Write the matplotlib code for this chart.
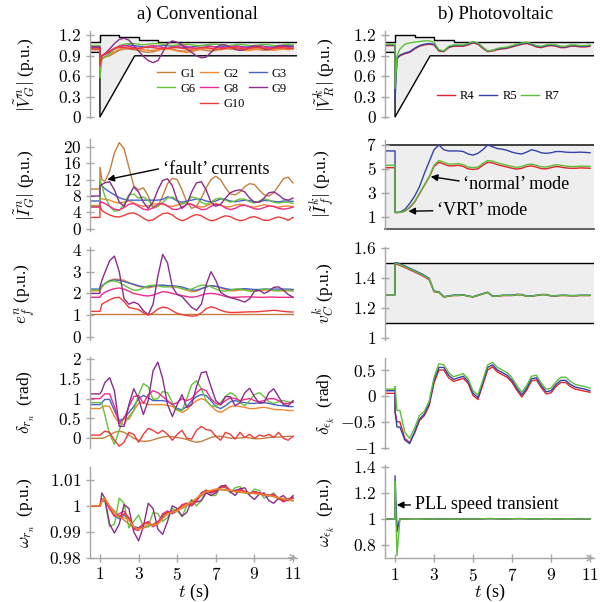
import matplotlib
matplotlib.use("Agg")
import matplotlib.pyplot as plt
from matplotlib.lines import Line2D
from matplotlib.ticker import FuncFormatter

plt.rcParams['font.family'] = ['Liberation Serif', 'DejaVu Serif']
plt.rcParams['mathtext.fontset'] = 'cm'

# time grid (s); 1.0 twice so the fault shows as a step
t = [0.5, 1.0, 1.0, 1.1,
     1.25, 1.5, 1.75, 2.0, 2.25, 2.5, 2.75, 3.0,
     3.25, 3.5, 3.75, 4.0, 4.25, 4.5, 4.75, 5.0,
     5.25, 5.5, 5.75, 6.0, 6.25, 6.5, 6.75, 7.0,
     7.25, 7.5, 7.75, 8.0, 8.25, 8.5, 8.75, 9.0,
     9.25, 9.5, 9.75, 10.0, 10.25, 10.5, 10.75, 11.0]

gen_names = ['G1', 'G2', 'G3', 'G6', 'G8', 'G9', 'G10']
pv_names = ['R4', 'R5', 'R7']

# ---- a) conventional: terminal voltage |V_G| ----
vg_g1 = [1.0, 1.0, 0.72, 0.86,
         0.88, 0.9, 0.94, 0.98, 1.0, 1.0, 0.99, 0.98,
         0.96, 0.95, 0.96, 0.98, 1.0, 1.01, 1.0, 0.98,
         0.97, 0.97, 0.98, 0.99, 0.99, 0.98, 0.97, 0.98,
         1.0, 1.01, 1.0, 0.99, 0.98, 0.99, 1.0, 1.0,
         0.99, 0.98, 0.99, 1.0, 1.01, 1.0, 0.99, 1.0]
vg_g2 = [0.99, 0.99, 0.7, 0.86,
         0.89, 0.92, 0.96, 1.0, 1.02, 1.03, 1.02, 1.0,
         0.99, 0.98, 0.98, 0.99, 1.0, 1.0, 0.99, 0.97,
         0.96, 0.95, 0.96, 0.98, 1.0, 1.01, 1.0, 0.99,
         0.99, 1.0, 1.01, 1.0, 0.99, 0.98, 0.98, 0.99,
         1.0, 1.0, 0.99, 0.98, 0.99, 1.0, 1.0, 1.0]
vg_g3 = [1.04, 1.04, 0.8, 0.9,
         0.92, 0.95, 1.0, 1.03, 1.05, 1.06, 1.05, 1.04,
         1.03, 1.02, 1.03, 1.04, 1.05, 1.05, 1.04, 1.03,
         1.02, 1.02, 1.03, 1.04, 1.05, 1.05, 1.04, 1.03,
         1.03, 1.04, 1.05, 1.05, 1.04, 1.03, 1.03, 1.04,
         1.05, 1.04, 1.03, 1.03, 1.04, 1.05, 1.05, 1.04]
vg_g6 = [1.05, 1.05, 0.57, 0.85,
         0.88, 0.93, 1.0, 1.05, 1.07, 1.08, 1.08, 1.07,
         1.06, 1.07, 1.08, 1.08, 1.07, 1.06, 1.05, 1.06,
         1.07, 1.07, 1.06, 1.05, 1.05, 1.06, 1.07, 1.07,
         1.06, 1.05, 1.05, 1.06, 1.07, 1.06, 1.05, 1.05,
         1.06, 1.07, 1.06, 1.05, 1.05, 1.06, 1.07, 1.06]
vg_g8 = [1.02, 1.02, 0.75, 0.9,
         0.92, 0.96, 1.01, 1.04, 1.05, 1.04, 1.02, 1.01,
         1.02, 1.04, 1.05, 1.04, 1.02, 1.01, 1.02, 1.04,
         1.05, 1.04, 1.02, 1.01, 1.02, 1.03, 1.04, 1.03,
         1.02, 1.02, 1.03, 1.04, 1.03, 1.02, 1.02, 1.03,
         1.04, 1.03, 1.02, 1.02, 1.03, 1.04, 1.03, 1.03]
vg_g9 = [1.03, 1.03, 0.86, 0.9,
         0.93, 1.0, 1.08, 1.14, 1.16, 1.13, 1.05, 0.97,
         0.89, 0.83, 0.8, 0.83, 0.95, 1.08, 1.12, 1.1,
         1.06, 1.0, 0.95, 0.9, 0.87, 0.88, 0.95, 1.02,
         1.06, 1.06, 1.03, 1.0, 0.98, 0.99, 1.03, 1.05,
         1.03, 1.0, 0.99, 1.02, 1.05, 1.05, 1.03, 1.04]
vg_g10 = [1.0, 1.0, 0.78, 0.9,
          0.93, 0.97, 1.01, 1.03, 1.02, 1.01, 1.0, 1.01,
          1.02, 1.03, 1.02, 1.01, 1.0, 1.01, 1.02, 1.02,
          1.01, 1.0, 1.0, 1.01, 1.02, 1.02, 1.01, 1.0,
          1.0, 1.01, 1.02, 1.02, 1.01, 1.0, 1.01, 1.02,
          1.02, 1.01, 1.0, 1.01, 1.02, 1.02, 1.01, 1.01]

# ---- stator current |I_G| ----
ig_g1 = [9.7, 9.7, 15.0, 12.0,
         11.5, 14.0, 18.5, 21.0, 19.5, 15.0, 10.5, 9.5,
         10.0, 8.0, 5.0, 5.5, 8.0, 11.0, 12.3, 12.0,
         9.5, 6.5, 5.0, 5.5, 7.5, 10.0, 12.0, 12.8,
         12.0, 10.0, 8.5, 8.3, 9.0, 10.3, 11.0, 10.8,
         9.5, 8.3, 8.0, 8.8, 10.5, 12.2, 12.6, 11.2]
ig_g2 = [5.7, 5.7, 7.5, 7.3,
         7.2, 7.0, 6.5, 6.3, 6.5, 6.8, 6.3, 5.8,
         5.5, 5.6, 6.0, 6.2, 6.0, 5.6, 5.5, 5.8,
         6.2, 6.4, 6.0, 5.5, 5.3, 5.6, 6.1, 6.2,
         5.8, 5.4, 5.4, 5.8, 6.0, 5.8, 5.4, 5.3,
         5.6, 5.9, 5.7, 5.4, 5.3, 5.5, 5.6, 5.4]
ig_g3 = [6.8, 6.8, 11.0, 10.5,
         9.8, 9.0, 8.3, 7.6, 7.2, 7.0, 7.0, 7.0,
         7.0, 7.0, 7.0, 7.0, 7.2, 7.8, 7.5, 6.8,
         6.5, 6.8, 7.0, 7.3, 7.2, 6.8, 6.5, 6.8,
         7.3, 7.2, 6.8, 6.6, 6.8, 7.0, 6.9, 6.6,
         6.6, 6.9, 6.9, 6.7, 6.6, 6.8, 6.8, 6.7]
ig_g6 = [5.5, 5.5, 12.0, 10.5,
         8.0, 5.5, 4.3, 4.5, 6.0, 8.3, 8.5, 7.5,
         7.8, 7.0, 5.5, 5.5, 6.5, 7.5, 7.8, 7.0,
         6.0, 6.5, 7.8, 7.5, 6.5, 6.0, 6.5, 7.3,
         7.5, 7.0, 6.5, 6.8, 7.3, 7.2, 6.6, 6.3,
         6.8, 7.3, 7.0, 6.5, 6.3, 6.5, 6.5, 6.2]
ig_g8 = [5.3, 5.3, 6.6, 6.5,
         6.2, 5.5, 4.8, 4.6, 5.2, 6.0, 6.2, 5.5,
         4.8, 4.6, 5.2, 6.0, 6.2, 5.6, 4.8, 4.7,
         5.3, 6.0, 6.0, 5.3, 4.7, 4.8, 5.5, 6.0,
         5.8, 5.1, 4.7, 5.0, 5.6, 5.8, 5.4, 4.9,
         4.8, 5.2, 5.6, 5.5, 5.0, 4.8, 5.0, 5.3]
ig_g9 = [8.0, 8.0, 10.5, 10.8,
         11.2, 11.5, 9.5, 6.5, 5.5, 8.0, 10.2, 9.0,
         6.5, 5.0, 6.5, 9.5, 11.8, 12.2, 10.5, 7.0,
         5.0, 6.0, 9.0, 11.2, 11.5, 9.5, 6.5, 5.5,
         6.0, 7.5, 8.8, 9.3, 9.5, 9.0, 7.5, 6.5,
         6.5, 7.5, 8.8, 9.0, 8.3, 7.3, 7.0, 7.5]
ig_g10 = [2.8, 2.8, 5.6, 4.5,
          4.0, 3.4, 3.0, 2.9, 3.3, 3.8, 3.9, 3.4,
          2.6, 2.0, 2.2, 3.0, 3.7, 3.9, 3.4, 2.5,
          2.0, 2.4, 3.1, 3.5, 3.2, 2.5, 2.0, 2.2,
          2.8, 3.2, 3.0, 2.4, 2.0, 2.2, 2.8, 3.0,
          2.6, 2.1, 2.1, 2.6, 2.9, 2.6, 2.1, 2.8]

# ---- field voltage e_f (G1 held constant) ----
ef_g1_t = [0.5, 11.0]
ef_g1 = [1.06, 1.06]
ef_g2 = [2.12, 2.12, 2.12, 2.3,
         2.45, 2.6, 2.66, 2.65, 2.6, 2.5, 2.4, 2.32,
         2.28, 2.25, 2.3, 2.35, 2.35, 2.32, 2.3, 2.28,
         2.22, 2.15, 2.08, 2.1, 2.2, 2.3, 2.35, 2.32,
         2.25, 2.18, 2.12, 2.12, 2.15, 2.17, 2.15, 2.12,
         2.12, 2.15, 2.15, 2.13, 2.12, 2.12, 2.12, 2.12]
ef_g3 = [2.2, 2.2, 2.2, 2.35,
         2.45, 2.58, 2.62, 2.6, 2.55, 2.48, 2.42, 2.35,
         2.3, 2.3, 2.35, 2.38, 2.38, 2.36, 2.35, 2.33,
         2.3, 2.22, 2.15, 2.15, 2.22, 2.3, 2.35, 2.33,
         2.28, 2.22, 2.18, 2.18, 2.2, 2.22, 2.2, 2.18,
         2.18, 2.2, 2.2, 2.2, 2.2, 2.2, 2.2, 2.18]
ef_g6 = [2.15, 2.15, 2.15, 2.3,
         2.45, 2.55, 2.58, 2.5, 2.38, 2.25, 2.15, 2.15,
         2.25, 2.35, 2.38, 2.35, 2.3, 2.3, 2.32, 2.3,
         2.22, 2.15, 2.2, 2.3, 2.38, 2.38, 2.3, 2.2,
         2.12, 2.1, 2.15, 2.2, 2.2, 2.15, 2.1, 2.1,
         2.15, 2.2, 2.18, 2.13, 2.12, 2.15, 2.15, 2.12]
ef_g8 = [1.82, 1.82, 1.82, 1.95,
         2.05, 2.15, 2.22, 2.25, 2.2, 2.1, 2.0, 1.95,
         1.9, 1.88, 1.92, 2.0, 2.08, 2.06, 2.0, 1.95,
         1.9, 1.85, 1.82, 1.85, 1.92, 1.98, 2.0, 1.98,
         1.92, 1.86, 1.82, 1.82, 1.83, 1.84, 1.84, 1.83,
         1.82, 1.82, 1.83, 1.83, 1.82, 1.82, 1.82, 1.82]
ef_g9 = [2.0, 2.0, 2.3, 2.6,
         2.95, 3.5, 3.72, 3.0, 1.75, 1.5, 1.6, 1.5,
         1.2, 1.02, 1.5, 2.8, 3.8, 3.4, 2.3, 1.95,
         1.85, 1.6, 1.35, 1.22, 1.5, 2.4, 3.0, 2.6,
         2.05, 1.9, 1.8, 1.75, 1.68, 1.6, 1.75, 2.1,
         2.15, 2.0, 2.1, 2.28, 2.3, 2.15, 1.95, 1.82]
ef_g10 = [1.17, 1.17, 1.17, 1.5,
          1.58, 1.7, 1.8, 1.82, 1.62, 1.35, 1.3, 1.25,
          1.1, 1.0, 1.1, 1.28, 1.37, 1.33, 1.2, 1.08,
          1.02, 0.98, 0.95, 0.97, 1.1, 1.3, 1.38, 1.32,
          1.22, 1.15, 1.12, 1.12, 1.13, 1.14, 1.15, 1.15,
          1.16, 1.18, 1.2, 1.22, 1.2, 1.17, 1.15, 1.14]

# ---- rotor angle delta_r ----
dr_g1 = [0.0, 0.0, 0.0, 0.0,
         0.02, 0.08, 0.15, 0.18, 0.15, 0.08, 0.0, -0.05,
         -0.08, -0.07, -0.04, 0.0, 0.03, 0.05, 0.04, 0.02,
         0.0, -0.03, -0.07, -0.1, -0.08, -0.03, 0.02, 0.05,
         0.05, 0.03, 0.0, 0.0, 0.01, 0.02, 0.01, -0.01,
         -0.01, 0.0, 0.02, 0.03, 0.03, 0.04, 0.05, 0.05]
dr_g2 = [0.75, 0.75, 0.75, 0.78,
         0.82, 0.8, 0.55, 0.38, 0.35, 0.55, 0.7, 0.88,
         0.9, 0.85, 0.85, 0.85, 0.85, 0.83, 0.8, 0.72,
         0.65, 0.72, 0.85, 0.95, 1.0, 0.95, 0.82, 0.7,
         0.65, 0.72, 0.8, 0.82, 0.8, 0.78, 0.75, 0.75,
         0.77, 0.78, 0.76, 0.73, 0.72, 0.72, 0.7, 0.7]
dr_g3 = [0.85, 0.85, 0.85, 0.9,
         0.98, 0.98, 0.7, 0.45, 0.5, 0.65, 0.8, 1.0,
         1.08, 1.02, 0.95, 0.95, 0.95, 0.93, 0.85, 0.75,
         0.72, 0.8, 0.95, 1.05, 1.1, 1.08, 0.95, 0.8,
         0.75, 0.82, 0.92, 0.95, 0.92, 0.9, 0.88, 0.88,
         0.9, 0.9, 0.88, 0.85, 0.83, 0.82, 0.8, 0.8]
dr_g6 = [0.9, 0.9, 0.9, 0.88,
         0.6, 0.1, -0.15, 0.2, 0.55, 0.48, 0.7, 1.1,
         1.38, 1.3, 0.98, 1.0, 1.18, 1.15, 0.9, 0.7,
         0.7, 1.0, 1.35, 1.45, 1.25, 0.95, 0.82, 0.8,
         0.9, 1.05, 1.15, 1.08, 0.9, 0.82, 0.95, 1.1,
         1.15, 1.05, 0.92, 0.88, 0.92, 0.95, 0.92, 0.9]
dr_g8 = [1.0, 1.0, 1.0, 1.05,
         1.12, 1.12, 0.8, 0.38, 0.5, 0.8, 1.05, 1.08,
         0.88, 1.1, 1.2, 1.15, 1.05, 0.95, 0.85, 0.9,
         1.0, 0.95, 1.0, 1.15, 1.25, 1.2, 1.0, 0.88,
         0.85, 0.95, 1.02, 1.0, 0.95, 0.98, 1.0, 0.95,
         0.92, 0.95, 1.0, 1.0, 0.95, 0.88, 0.88, 0.92]
dr_g9 = [1.12, 1.12, 1.12, 1.2,
         1.4, 1.53, 1.2, 0.3, 0.3, 0.85, 1.25, 1.0,
         0.6, 0.95, 1.7, 1.92, 1.5, 0.85, 0.55, 0.85,
         1.1, 0.78, 0.85, 1.3, 1.65, 1.68, 1.3, 0.95,
         0.84, 1.05, 1.05, 0.82, 0.9, 1.15, 1.26, 1.05,
         0.88, 0.9, 1.15, 1.25, 1.05, 0.85, 0.82, 0.95]
dr_g10 = [0.08, 0.08, 0.08, 0.12,
          0.18, 0.15, -0.05, -0.2, -0.1, 0.15, 0.1, -0.1,
          0.1, 0.25, 0.2, 0.12, 0.2, 0.1, -0.05, 0.1,
          0.2, 0.0, -0.02, 0.2, 0.3, 0.22, 0.2, 0.05,
          -0.05, 0.15, 0.1, -0.02, 0.15, 0.02, 0.1, 0.0,
          0.08, 0.05, 0.1, 0.02, 0.15, 0.0, -0.05, 0.05]

# ---- rotor speed omega_r ----
wr_g1 = [1.0, 1.0, 1.0, 1.0015,
         1.002, 1.0, 0.998, 0.996, 0.9945, 0.993, 0.992, 0.9915,
         0.9915, 0.992, 0.993, 0.994, 0.9955, 0.997, 0.998, 0.9985,
         0.999, 1.0, 1.001, 1.0025, 1.004, 1.005, 1.0058, 1.0062,
         1.0062, 1.006, 1.0058, 1.0055, 1.0052, 1.005, 1.005, 1.0048,
         1.0045, 1.0042, 1.004, 1.0035, 1.003, 1.0027, 1.0022, 1.002]
wr_g2 = [1.0, 1.0, 1.0, 1.002,
         1.003, 1.0, 0.997, 0.9955, 0.9955, 0.9945, 0.992, 0.991,
         0.9915, 0.993, 0.9925, 0.993, 0.995, 0.997, 0.9975, 0.998,
         0.9995, 1.0005, 1.0015, 1.003, 1.0045, 1.0055, 1.006, 1.0065,
         1.0065, 1.0062, 1.006, 1.0055, 1.0055, 1.0052, 1.005, 1.0048,
         1.0045, 1.0042, 1.004, 1.0037, 1.0032, 1.0028, 1.0024, 1.002]
wr_g3 = [1.0, 1.0, 1.0, 1.002,
         1.003, 0.999, 0.996, 0.995, 0.9965, 0.995, 0.992, 0.9915,
         0.993, 0.9935, 0.992, 0.993, 0.996, 0.998, 0.997, 0.998,
         1.0, 1.001, 1.0, 1.002, 1.005, 1.006, 1.005, 1.006,
         1.0075, 1.007, 1.0055, 1.006, 1.0065, 1.0055, 1.005, 1.0055,
         1.005, 1.004, 1.004, 1.0042, 1.003, 1.002, 1.0025, 1.003]
wr_g6 = [1.0, 1.0, 1.0, 1.003,
         1.002, 0.992, 0.993, 1.003, 1.001, 0.9915, 0.994, 0.9965,
         0.992, 0.992, 0.9975, 0.997, 0.994, 0.9955, 0.999, 0.998,
         0.996, 1.0, 1.0025, 1.0, 1.002, 1.006, 1.004, 1.004,
         1.0075, 1.0075, 1.005, 1.007, 1.0075, 1.005, 1.0045, 1.0065,
         1.006, 1.003, 1.004, 1.005, 1.0025, 1.002, 1.003, 1.002]
wr_g8 = [1.0, 1.0, 1.0, 1.002,
         1.003, 0.999, 0.996, 0.997, 0.998, 0.995, 0.991, 0.9905,
         0.993, 0.994, 0.992, 0.9935, 0.997, 0.998, 0.997, 0.9985,
         1.0005, 1.001, 1.0, 1.002, 1.005, 1.006, 1.005, 1.0055,
         1.0075, 1.0075, 1.006, 1.0055, 1.0065, 1.0055, 1.005, 1.0055,
         1.005, 1.0045, 1.004, 1.0045, 1.003, 1.0015, 1.0025, 1.0035]
wr_g9 = [1.0, 1.0, 1.0, 1.005,
         1.003, 0.993, 0.9895, 0.993, 1.0005, 0.999, 0.99, 0.9865,
         0.992, 1.001, 0.999, 0.991, 0.989, 0.994, 1.0, 0.999,
         0.996, 0.9975, 1.002, 1.0015, 1.002, 1.005, 1.004, 1.005,
         1.0075, 1.008, 1.0055, 1.004, 1.0065, 1.007, 1.004, 1.0025,
         1.0045, 1.005, 1.002, 1.001, 1.003, 1.004, 1.002, 1.004]
wr_g10 = [1.0, 1.0, 1.0, 1.002,
          1.0025, 0.999, 0.9965, 0.996, 0.997, 0.9955, 0.9915, 0.991,
          0.993, 0.9935, 0.9925, 0.9935, 0.9965, 0.9975, 0.9975, 0.9985,
          1.0, 1.001, 1.0005, 1.002, 1.0045, 1.006, 1.0055, 1.006,
          1.007, 1.0075, 1.006, 1.0058, 1.006, 1.0055, 1.005, 1.0052,
          1.005, 1.0045, 1.004, 1.004, 1.003, 1.002, 1.0025, 1.003]

# ---- b) photovoltaic: PCC voltage |V_R| ----
vr_r4 = [1.05, 1.05, 0.4, 0.86,
         0.9, 0.93, 0.95, 1.0, 1.04, 1.06, 1.07, 1.06,
         0.97, 0.96, 1.02, 1.04, 1.04, 1.04, 1.06, 1.09,
         1.07, 1.01, 0.96, 0.97, 0.99, 1.0, 1.01, 1.03,
         1.05, 1.07, 1.08, 1.06, 1.03, 1.02, 1.04, 1.05,
         1.04, 1.02, 1.02, 1.04, 1.04, 1.03, 1.03, 1.04]
vr_r5 = [1.06, 1.06, 0.25, 0.86,
         0.91, 0.94, 0.96, 1.01, 1.05, 1.07, 1.08, 1.07,
         0.98, 0.97, 1.03, 1.05, 1.05, 1.05, 1.07, 1.1,
         1.08, 1.02, 0.97, 0.98, 1.0, 1.01, 1.02, 1.04,
         1.06, 1.08, 1.09, 1.07, 1.04, 1.03, 1.05, 1.06,
         1.05, 1.03, 1.03, 1.05, 1.05, 1.04, 1.04, 1.05]
vr_r7 = [1.07, 1.07, 0.42, 0.9,
         1.0, 1.07, 1.09, 1.1, 1.11, 1.12, 1.12, 1.1,
         0.99, 0.97, 1.04, 1.06, 1.06, 1.06, 1.08, 1.11,
         1.09, 1.03, 0.97, 0.98, 1.01, 1.02, 1.03, 1.05,
         1.07, 1.09, 1.1, 1.08, 1.05, 1.04, 1.06, 1.07,
         1.06, 1.04, 1.04, 1.06, 1.06, 1.05, 1.05, 1.06]

# ---- inverter current |I_f| ----
if_r4 = [5.1, 5.1, 1.35, 1.35,
         1.35, 1.45, 1.75, 2.2, 2.9, 3.6, 4.3, 5.2,
         5.55, 5.4, 5.25, 5.25, 5.3, 5.2, 5.0, 4.95,
         5.0, 5.3, 5.55, 5.5, 5.35, 5.25, 5.15, 5.05,
         4.98, 5.05, 5.2, 5.25, 5.15, 5.02, 5.0, 5.1,
         5.2, 5.15, 5.08, 5.05, 5.05, 5.08, 5.07, 5.05]
if_r5 = [6.5, 6.5, 1.35, 1.35,
         1.38, 1.6, 2.1, 2.7, 3.5, 4.6, 5.6, 6.6,
         7.0, 6.6, 6.5, 6.5, 6.5, 6.45, 6.25, 6.15,
         6.3, 6.6, 7.0, 6.85, 6.7, 6.65, 6.55, 6.4,
         6.3, 6.25, 6.4, 6.6, 6.5, 6.35, 6.3, 6.35,
         6.45, 6.45, 6.4, 6.38, 6.38, 6.4, 6.38, 6.35]
if_r7 = [5.3, 5.3, 1.35, 1.35,
         1.35, 1.47, 1.8, 2.25, 2.95, 3.65, 4.35, 5.3,
         5.7, 5.55, 5.4, 5.4, 5.45, 5.35, 5.15, 5.1,
         5.15, 5.45, 5.7, 5.65, 5.5, 5.4, 5.3, 5.2,
         5.13, 5.2, 5.35, 5.4, 5.3, 5.17, 5.15, 5.25,
         5.35, 5.3, 5.23, 5.2, 5.2, 5.23, 5.22, 5.2]

# ---- dc-link voltage v_C ----
vc_r4 = [1.29, 1.29, 1.495, 1.493,
         1.486, 1.472, 1.457, 1.442, 1.427, 1.41, 1.39, 1.31,
         1.305, 1.275, 1.28, 1.285, 1.285, 1.288, 1.28, 1.275,
         1.285, 1.295, 1.305, 1.28, 1.28, 1.285, 1.285, 1.285,
         1.29, 1.29, 1.28, 1.28, 1.285, 1.29, 1.29, 1.282,
         1.282, 1.285, 1.285, 1.283, 1.283, 1.285, 1.285, 1.285]
vc_r5 = [1.29, 1.29, 1.505, 1.503,
         1.496, 1.482, 1.467, 1.452, 1.437, 1.42, 1.4, 1.315,
         1.31, 1.278, 1.283, 1.288, 1.288, 1.29, 1.282, 1.277,
         1.288, 1.298, 1.308, 1.282, 1.282, 1.287, 1.287, 1.288,
         1.293, 1.292, 1.282, 1.282, 1.287, 1.292, 1.292, 1.284,
         1.284, 1.287, 1.287, 1.285, 1.285, 1.287, 1.287, 1.287]
vc_r7 = [1.29, 1.29, 1.5, 1.498,
         1.491, 1.477, 1.462, 1.447, 1.432, 1.415, 1.395, 1.312,
         1.307, 1.276, 1.281, 1.286, 1.286, 1.289, 1.281, 1.276,
         1.286, 1.296, 1.306, 1.281, 1.281, 1.286, 1.286, 1.286,
         1.291, 1.291, 1.281, 1.281, 1.286, 1.291, 1.291, 1.283,
         1.283, 1.286, 1.286, 1.284, 1.284, 1.286, 1.286, 1.286]

# ---- PLL angle delta_eps ----
de_r4 = [0.05, 0.05, -0.3, -0.5,
         -0.5, -0.82, -0.9, -0.72, -0.48, -0.38, -0.19, 0.25,
         0.5, 0.5, 0.35, 0.28, 0.31, 0.34, 0.24, 0.01,
         -0.07, 0.21, 0.5, 0.56, 0.46, 0.41, 0.36, 0.26,
         0.11, -0.02, 0.11, 0.29, 0.31, 0.16, 0.04, 0.06,
         0.18, 0.26, 0.26, 0.18, 0.13, 0.11, 0.09, 0.07]
de_r5 = [0.1, 0.1, -0.3, -0.6,
         -0.6, -0.85, -0.92, -0.7, -0.45, -0.35, -0.15, 0.3,
         0.55, 0.55, 0.4, 0.32, 0.35, 0.38, 0.28, 0.05,
         -0.03, 0.25, 0.55, 0.6, 0.5, 0.45, 0.4, 0.3,
         0.15, 0.02, 0.15, 0.33, 0.35, 0.2, 0.08, 0.1,
         0.22, 0.3, 0.3, 0.22, 0.17, 0.15, 0.13, 0.1]
de_r7 = [0.13, 0.13, 0.18, -0.28,
         -0.28, -0.7, -0.82, -0.62, -0.38, -0.3, -0.1, 0.36,
         0.62, 0.6, 0.45, 0.37, 0.4, 0.43, 0.33, 0.1,
         0.02, 0.3, 0.6, 0.65, 0.55, 0.5, 0.45, 0.35,
         0.2, 0.07, 0.2, 0.38, 0.4, 0.25, 0.13, 0.15,
         0.27, 0.36, 0.36, 0.28, 0.22, 0.2, 0.18, 0.15]

# ---- PLL speed omega_eps ----
we_r4 = [1.0, 1.0, 1.2, 0.9,
         1.0, 0.999, 0.998, 0.997, 0.997, 0.998, 0.999, 1.001,
         1.0, 0.999, 0.998, 0.998, 0.999, 1.0, 1.0, 1.0,
         1.0, 1.001, 1.002, 1.002, 1.001, 1.0, 1.0, 1.001,
         1.002, 1.002, 1.001, 1.0, 1.0, 1.001, 1.002, 1.001,
         1.0, 1.0, 1.001, 1.001, 1.0, 1.0, 1.0, 1.0]
we_r5 = [1.0, 1.0, 1.33, 0.92,
         1.0, 0.999, 0.998, 0.997, 0.997, 0.998, 0.999, 1.001,
         1.0, 0.999, 0.998, 0.998, 0.999, 1.0, 1.0, 1.0,
         1.0, 1.001, 1.002, 1.002, 1.001, 1.0, 1.0, 1.001,
         1.002, 1.002, 1.001, 1.0, 1.0, 1.001, 1.002, 1.001,
         1.0, 1.0, 1.001, 1.001, 1.0, 1.0, 1.0, 1.0]
we_r7 = [1.0, 1.0, 1.29, 0.72,
         1.0, 0.999, 0.998, 0.997, 0.997, 0.998, 0.999, 1.001,
         1.0, 0.999, 0.998, 0.998, 0.999, 1.0, 1.0, 1.0,
         1.0, 1.001, 1.002, 1.002, 1.001, 1.0, 1.0, 1.001,
         1.002, 1.002, 1.001, 1.0, 1.0, 1.001, 1.002, 1.001,
         1.0, 1.0, 1.001, 1.001, 1.0, 1.0, 1.0, 1.0]

# voltage ride-through envelope and limit bands
env_up_t = [0.485, 1.0, 1.0, 2.0, 2.0, 3.0, 3.0, 4.0, 4.0, 11.205]
env_up = [1.1, 1.1, 1.2, 1.2, 1.17, 1.17, 1.13, 1.13, 1.1, 1.1]
env_lo_t = [0.485, 1.0, 1.0, 2.8, 11.205]
env_lo = [0.95, 0.95, 0.0, 0.9, 0.9]
if_band = [0.0, 7.0]
vc_band = [1.1, 1.5]

gen_colors = ['#c47f3e', '#f5862e', '#4563c4', '#66c23a', '#ef2a8c', '#8a2d8c', '#ef3a3a']
pv_colors = ['#e4222b', '#3242a8', '#5cbf3a']

gray = '#a8a8a8'
band = '#eeeeee'
XL = (0.485, 11.205)

fig = plt.figure(figsize=(6.06, 6.02), dpi=100)
W, H = 606.0, 602.0


def make_ax(x0, x1, y0, y1):
    return fig.add_axes([x0 / W, 1 - y1 / H, (x1 - x0) / W, (y1 - y0) / H])


def style(ax, ylim, yticks, ylabel, lx, bottom=False):
    ax.set_xlim(*XL)
    ax.set_ylim(*ylim)
    ax.patch.set_visible(False)
    for s in ['top', 'right']:
        ax.spines[s].set_visible(False)
    ax.spines['left'].set_color(gray)
    ax.spines['left'].set_linewidth(1.0)
    ax.set_yticks(yticks)
    ax.yaxis.set_major_formatter(FuncFormatter(lambda v, p: '$%g$' % v))
    ax.tick_params(axis='y', direction='inout', length=6, width=1, color=gray,
                   labelsize=12.5, pad=3)
    ax.set_ylabel(ylabel, fontsize=12.5)
    ax.yaxis.set_label_coords(lx, 0.5)
    if bottom:
        ax.spines['bottom'].set_color(gray)
        ax.spines['bottom'].set_linewidth(1.0)
        ax.set_xticks([1, 3, 5, 7, 9, 11])
        ax.xaxis.set_major_formatter(FuncFormatter(lambda v, p: '$%g$' % v))
        ax.tick_params(axis='x', direction='inout', length=6, width=1, color=gray,
                       labelsize=12.5, pad=4)
        ax.annotate('', xy=(1.0, 0), xycoords='axes fraction', xytext=(0.96, 0),
                    arrowprops=dict(arrowstyle='->', color=gray, lw=1.0,
                                    shrinkA=0, shrinkB=0))
        ax.set_xlabel('$t$ (s)', fontsize=13, labelpad=-2)
    else:
        ax.spines['bottom'].set_visible(False)
        ax.set_xticks([])


def envelope(ax):
    ax.fill(env_up_t + env_lo_t[::-1], env_up + env_lo[::-1], color=band, lw=0, zorder=0)
    ax.plot(env_up_t, env_up, color='black', lw=1.0, zorder=1)
    ax.plot(env_lo_t, env_lo, color='black', lw=1.0, zorder=1)


LX, RX = (90, 297), (385, 594)
LW = 1.0
LAB_L, LAB_R = -0.255, -0.23
leg_kw = dict(frameon=False, fontsize=9, handlelength=1.45, handletextpad=0.4,
              columnspacing=0.35, labelspacing=0.25, borderpad=0, borderaxespad=0)

# ---------------- left column ----------------
ax = make_ax(LX[0], LX[1], 31, 118.3)
envelope(ax)
lines = {}
for name, ys, c in zip(gen_names, [vg_g1, vg_g2, vg_g3, vg_g6, vg_g8, vg_g9, vg_g10], gen_colors):
    lines[name], = ax.plot(t, ys, color=c, lw=LW, label=name)
style(ax, (-0.02, 1.265), [0, 0.3, 0.6, 0.9, 1.2], r'$|\tilde{V}_G^{n}|$ (p.u.)', LAB_L)
blank = Line2D([], [], color='none')
hs = [lines['G1'], lines['G6'], blank, lines['G2'], lines['G8'], lines['G10'],
      lines['G3'], lines['G9'], blank]
ls = ['G1', 'G6', '', 'G2', 'G8', 'G10', 'G3', 'G9', '']
ax.legend(hs, ls, ncol=3, loc='upper left', bbox_to_anchor=(0.325, 0.58), **leg_kw)
fig.text(197 / W, 1 - 14 / H, 'a) Conventional', fontsize=13.5, ha='center', va='center')

ax = make_ax(LX[0], LX[1], 139.3, 231)
for ys, c in zip([ig_g1, ig_g2, ig_g3, ig_g6, ig_g8, ig_g9, ig_g10], gen_colors):
    ax.plot(t, ys, color=c, lw=LW)
style(ax, (-0.5, 21.8), [0, 4, 8, 12, 16, 20], r'$|\tilde{I}_G^{n}|$ (p.u.)', LAB_L)
ax.annotate("\u2018fault\u2019 currents", xy=(1.38, 12.0), xytext=(4.25, 14.4),
            fontsize=13, ha='left', va='center',
            arrowprops=dict(arrowstyle='-|>', color='black', lw=1.0, relpos=(0, 0.6),
                            shrinkA=1, shrinkB=0, mutation_scale=10))

ax = make_ax(LX[0], LX[1], 247, 340)
ax.plot(ef_g1_t, ef_g1, color=gen_colors[0], lw=LW)
for ys, c in zip([ef_g2, ef_g3, ef_g6, ef_g8, ef_g9, ef_g10], gen_colors[1:]):
    ax.plot(t, ys, color=c, lw=LW)
style(ax, (-0.15, 4.14), [0, 1, 2, 3, 4], r'$e_f^{n}$ (p.u.)', LAB_L)

ax = make_ax(LX[0], LX[1], 356.6, 448.2)
for ys, c in zip([dr_g1, dr_g2, dr_g3, dr_g6, dr_g8, dr_g9, dr_g10], gen_colors):
    ax.plot(t, ys, color=c, lw=LW)
style(ax, (-0.25, 2.06), [0, 0.5, 1, 1.5, 2], r'$\delta_{r_n}$  (rad)', LAB_L)

ax = make_ax(LX[0], LX[1], 466.5, 557.7)
for ys, c in zip([wr_g1, wr_g3, wr_g6, wr_g8, wr_g9, wr_g10, wr_g2],
                 [gen_colors[0], gen_colors[2], gen_colors[3], gen_colors[4],
                  gen_colors[5], gen_colors[6], gen_colors[1]]):
    ax.plot(t, ys, color=c, lw=LW)
style(ax, (0.98, 1.0152), [0.98, 0.99, 1, 1.01], r'$\omega_{r_n}$  (p.u.)', LAB_L, bottom=True)

# ---------------- right column ----------------
ax = make_ax(RX[0], RX[1], 31, 118.3)
envelope(ax)
for name, ys, c in zip(pv_names, [vr_r4, vr_r5, vr_r7], pv_colors):
    ax.plot(t, ys, color=c, lw=LW, label=name)
style(ax, (-0.02, 1.265), [0, 0.3, 0.6, 0.9, 1.2], r'$|\tilde{V}_R^{k}|$ (p.u.)', LAB_R)
ax.legend(ncol=3, loc='upper left', bbox_to_anchor=(0.249, 0.325), **leg_kw)
fig.text(496 / W, 1 - 14 / H, 'b) Photovoltaic', fontsize=13.5, ha='center', va='center')

ax = make_ax(RX[0], RX[1], 139.6, 228.6)
ax.fill_between(XL, if_band[0], if_band[1], color=band, lw=0, zorder=0)
ax.plot(XL, [if_band[1]] * 2, color='#333333', lw=1.3, zorder=1)
ax.plot(XL, [if_band[0]] * 2, color='#555555', lw=1.3, zorder=1, clip_on=False)
for ys, c in zip([if_r4, if_r5, if_r7], pv_colors):
    ax.plot(t, ys, color=c, lw=LW)
style(ax, (0, 7.45), [1, 3, 5, 7], r'$|\tilde{I}_f^{k}|$ (p.u.)', LAB_R)
ax.annotate("\u2018normal\u2019 mode", xy=(2.83, 4.35), xytext=(4.5, 3.65),
            fontsize=13, ha='left', va='center',
            arrowprops=dict(arrowstyle='-|>', color='black', lw=1.0, relpos=(0, 0.7),
                            shrinkA=1, shrinkB=0, mutation_scale=10))
ax.annotate("\u2018VRT\u2019 mode", xy=(1.68, 1.45), xytext=(3.15, 1.5),
            fontsize=13, ha='left', va='center',
            arrowprops=dict(arrowstyle='-|>', color='black', lw=1.0, relpos=(0, 0.5),
                            shrinkA=1, shrinkB=0, mutation_scale=10))

ax = make_ax(RX[0], RX[1], 247.25, 339.8)
ax.fill_between(XL, vc_band[0], vc_band[1], color=band, lw=0, zorder=0)
for yb in vc_band:
    ax.plot(XL, [yb, yb], color='black', lw=1.0, zorder=1)
for ys, c in zip([vc_r4, vc_r5, vc_r7], pv_colors):
    ax.plot(t, ys, color=c, lw=LW)
style(ax, (0.99, 1.607), [1, 1.2, 1.4, 1.6], r'$v_C^{k}$ (p.u.)', LAB_R)

ax = make_ax(RX[0], RX[1], 358.1, 449.3)
for ys, c in zip([de_r4, de_r5, de_r7], pv_colors):
    ax.plot(t, ys, color=c, lw=LW)
style(ax, (-1.03, 0.73), [-1, -0.5, 0, 0.5], r'$\delta_{\epsilon_k}$  (rad)', LAB_R)

ax = make_ax(RX[0], RX[1], 465.4, 558.05)
for ys, c in zip([we_r4, we_r5, we_r7], pv_colors):
    ax.plot(t, ys, color=c, lw=LW)
style(ax, (0.70, 1.41), [0.8, 1, 1.2, 1.4], r'$\omega_{\epsilon_k}$  (p.u.)', LAB_R, bottom=True)
ax.annotate("PLL speed transient", xy=(1.09, 1.107), xytext=(2.0, 1.107),
            fontsize=13, ha='left', va='center',
            arrowprops=dict(arrowstyle='-|>', color='black', lw=1.0, relpos=(0, 0.5),
                            shrinkA=1, shrinkB=0, mutation_scale=10))

fig.savefig('out.png', dpi=100)
